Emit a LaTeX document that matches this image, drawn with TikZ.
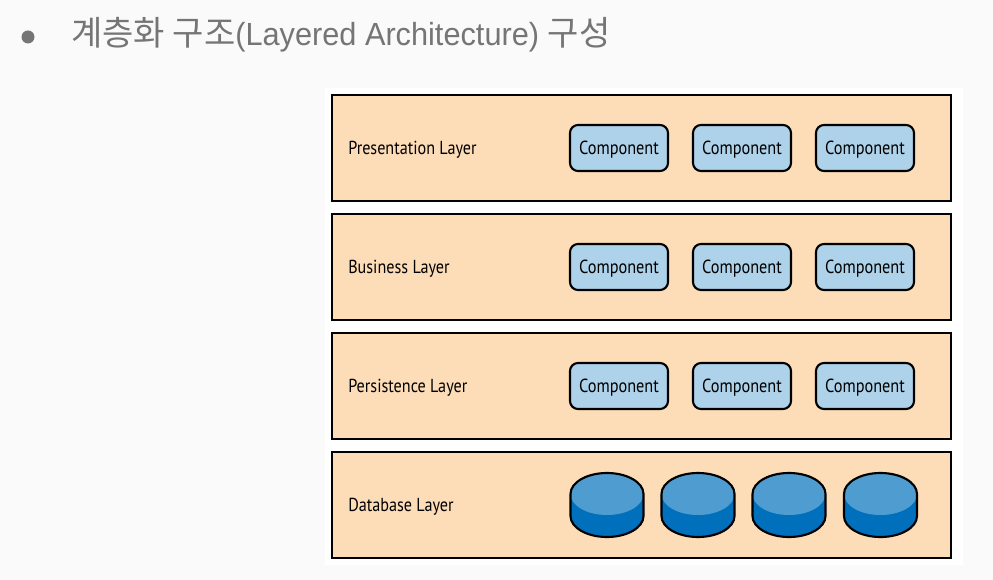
\documentclass[tikz,border=0pt]{standalone}
\usepackage{fontspec}
\setmainfont[FakeStretch=0.96]{Liberation Sans}
\newfontfamily\korfont{Noto Sans CJK KR}
\newfontfamily\figfont[FakeStretch=0.86]{PT Sans}
\definecolor{pagebg}{HTML}{FAFAFA}
\definecolor{titlegray}{HTML}{757575}
\definecolor{layerfill}{HTML}{FDDCB8}
\definecolor{compfill}{HTML}{AED2EA}
\definecolor{dbtop}{HTML}{4F9DD0}
\definecolor{dbbody}{HTML}{0070BD}

\begin{document}
\begin{tikzpicture}[x=0.75pt,y=-0.75pt,
layerblock/.style={draw,rectangle,fill=layerfill,line width=1.5pt,minimum width=464pt,minimum height=80pt,inner sep=0pt},
compblock/.style={draw,rectangle,rounded corners=6pt,fill=compfill,line width=1.6pt,minimum width=73.5pt,minimum height=34.5pt,inner sep=0pt,text height=12pt,text depth=2.7pt,font=\figfont\fontsize{14.2}{16}\selectfont},
layerlabel/.style={anchor=west,inner sep=0pt,font=\figfont\fontsize{14.1}{16}\selectfont},
dbnode/.style={inner sep=0pt,minimum width=55pt,minimum height=47pt},
titletext/.style={anchor=base west,inner sep=0pt,text=titlegray,font=\fontsize{24}{28}\selectfont}]

\useasboundingbox (0,0) rectangle (993,580);
\fill[pagebg] (0,0) rectangle (993,580);
\fill[white] (325,88) rectangle (963,565);

% title line
\fill[titlegray] (28,37) circle (6.5);
\node[titletext] (title) at (71,46) {{\korfont\fontsize{25.5}{28}\selectfont 계층화 구조}(Layered Architecture) {\korfont\fontsize{25.5}{28}\selectfont 구성}};

% layers
\node[layerblock] (present) at (641.5,148) {};
\node[layerblock] (business) at (641.5,267) {};
\node[layerblock] (persist) at (641.5,386) {};
\node[layerblock] (database) at (641.5,505) {};

\node[layerlabel] (presentlabel) at (348,149.5) {Presentation Layer};
\node[layerlabel] (businesslabel) at (348,268.5) {Business Layer};
\node[layerlabel] (persistlabel) at (348,387.5) {Persistence Layer};
\node[layerlabel] (databaselabel) at (348,506.5) {Database Layer};

% components
\foreach \name/\y in {present/148,business/267,persist/386} {
  \node[compblock] (\name1) at (619,\y) {Component};
  \node[compblock] (\name2) at (742,\y) {Component};
  \node[compblock] (\name3) at (865,\y) {Component};
}

% database cylinders
\foreach \n/\x in {1/607,2/698,3/789,4/880.5} {
  \node[dbnode] (db\n) at (\x,505) {};
  \fill[dbbody] (\x-36.5,494) -- (\x+36.5,494) -- (\x+36.5,516)
    arc[start angle=0,end angle=180,x radius=36.5,y radius=21] -- cycle;
  \fill[dbtop] (\x,494) ellipse[x radius=36.5,y radius=21];
  \draw[line width=1.6pt] (\x-36.5,494) arc[start angle=180,end angle=360,x radius=36.5,y radius=21]
    -- (\x+36.5,516) arc[start angle=0,end angle=180,x radius=36.5,y radius=21] -- cycle;
}
\end{tikzpicture}
\end{document}
